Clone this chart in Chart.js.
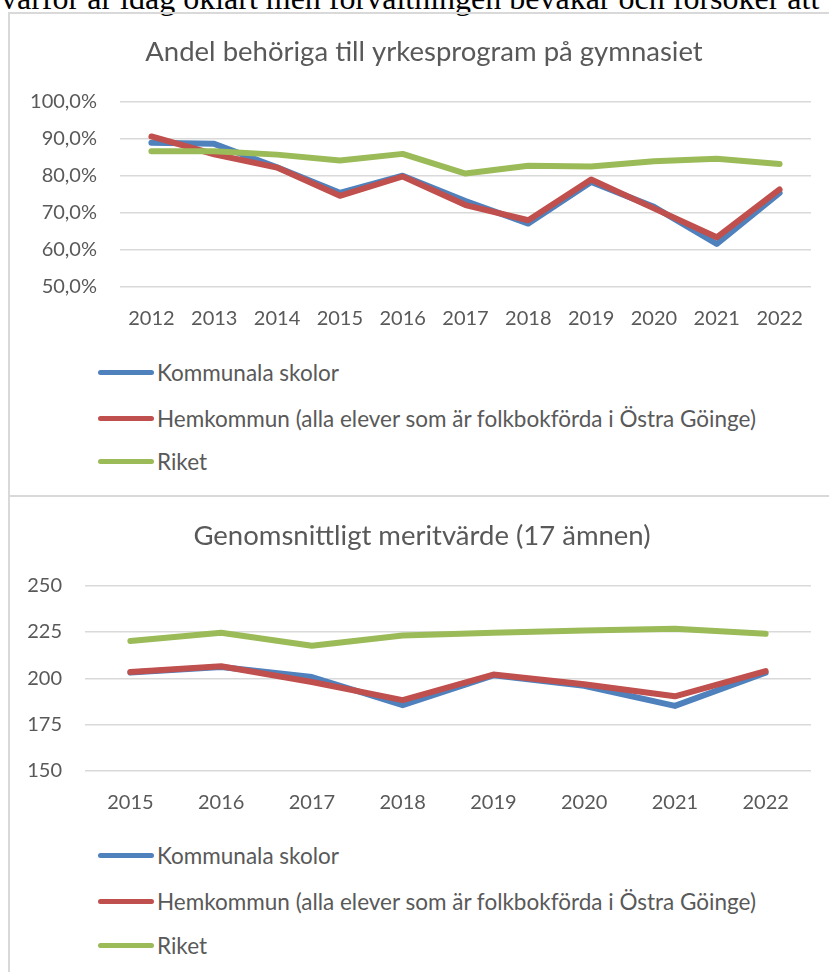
<!DOCTYPE html>
<html>
<head>
<meta charset="utf-8">
<script src="https://cdn.jsdelivr.net/npm/chart.js@4.4.1/dist/chart.umd.min.js"></script>
<style>
  html, body { margin: 0; padding: 0; background: #fff; }
  #page { position: relative; width: 829px; height: 972px; overflow: hidden; background: #fff; }
  #lead { position: absolute; left: 1px; top: -18px; font-family: "Liberation Serif", "Times New Roman", serif;
          font-size: 32px; line-height: 32px; color: #000; white-space: nowrap; }
  .frame { position: absolute; background: #d9d9d9; }
  canvas { position: absolute; left: 0; }
  .legend { position: absolute; left: 0; width: 829px; font-family: Lato, sans-serif; font-size: 22.5px; color: #595959; }
  .legend .item { position: absolute; left: 98px; height: 28px; white-space: nowrap; display: flex; align-items: center; }
  .legend .swatch { width: 56px; height: 5px; border-radius: 3px; margin-right: 3px; }
</style>
</head>
<body>
<div id="page">
  <div id="lead">varför är idag oklart men förvaltningen bevakar och försöker att</div>
  <div class="frame" style="left:8px;top:12px;width:2px;height:960px"></div>
  <div class="frame" style="left:8px;top:12px;width:821px;height:2px"></div>
  <div class="frame" style="left:8px;top:495px;width:821px;height:2px"></div>
  <canvas id="c1" width="829" height="345" style="top:0"></canvas>
  <div class="legend" id="leg1" style="top:0"></div>
  <canvas id="c2" width="829" height="345" style="top:484px"></canvas>
  <div class="legend" id="leg2" style="top:484px"></div>
</div>
<script>
// chart 1: Andel behöriga till yrkesprogram (procent)
const years1 = ['2012', '2013', '2014', '2015', '2016', '2017', '2018', '2019', '2020', '2021', '2022'];
const kommunala1 = [88.9, 88.6, 82.3, 75.4, 80.0, 73.2, 67.1, 78.3, 71.6, 61.6, 75.4];
const hemkommun1 = [90.6, 85.8, 82.2, 74.6, 79.8, 72.1, 68.0, 79.0, 71.2, 63.4, 76.3];
const riket1 = [86.6, 86.6, 85.7, 84.1, 85.9, 80.6, 82.7, 82.5, 83.9, 84.6, 83.2];
const yTicks1 = [50, 60, 70, 80, 90, 100];

// chart 2: Genomsnittligt meritvärde
const years2 = ['2015', '2016', '2017', '2018', '2019', '2020', '2021', '2022'];
const kommunala2 = [203.1, 206.1, 200.7, 185.5, 201.6, 196.0, 185.1, 203.0];
const hemkommun2 = [203.4, 206.5, 198.0, 188.2, 202.0, 196.8, 190.3, 203.9];
const riket2 = [220.1, 224.6, 217.6, 223.1, 224.6, 225.8, 226.7, 224.0];
const yTicks2 = [150, 175, 200, 225, 250];

const seriesNames = ['Kommunala skolor', 'Hemkommun (alla elever som är folkbokförda i Östra Göinge)', 'Riket'];
const seriesColors = ['#4f81bd', '#c0504d', '#9bbb59'];

const textColor = '#595959';
const fontFamily = 'Lato, sans-serif';

function makeDatasets(values) {
  // Riket on top, then Hemkommun, Kommunala at the bottom
  return values.map((v, i) => ({
    label: seriesNames[i],
    data: v,
    borderColor: seriesColors[i],
    backgroundColor: seriesColors[i],
    borderWidth: 6,
    borderCapStyle: 'round',
    borderJoinStyle: 'round',
    pointRadius: 0,
    tension: 0,
    order: 3 - i
  }));
}

// g: left pad, y axis width, empty right axis width, right pad (plot right ends at 811)
function makeChart(id, title, labels, values, ticks, fmt, g) {
  return new Chart(document.getElementById(id), {
    type: 'line',
    data: { labels: labels, datasets: makeDatasets(values) },
    options: {
      responsive: false,
      animation: false,
      devicePixelRatio: 1,
      layout: { padding: { left: g.left, right: g.right, top: 0, bottom: 0 } },
      plugins: {
        legend: { display: false },
        tooltip: { enabled: false },
        title: {
          display: true,
          text: title,
          color: textColor,
          font: { family: fontFamily, size: 27.5, weight: 'normal' },
          padding: { top: 36, bottom: 32.6 }
        }
      },
      scales: {
        x: {
          offset: true,
          grid: { display: false },
          border: { display: false },
          ticks: { color: textColor, font: { family: fontFamily, size: 20 }, padding: 12, maxRotation: 0 },
          afterFit: s => { s.height = 58; }
        },
        y: {
          min: ticks[0],
          max: ticks[ticks.length - 1],
          grid: { color: '#d9d9d9', lineWidth: 1.5, drawTicks: false },
          border: { display: false },
          ticks: {
            stepSize: ticks[1] - ticks[0],
            color: textColor,
            font: { family: fontFamily, size: 20 },
            padding: 23,
            callback: fmt
          },
          afterFit: s => { s.width = g.axis; }
        },
        // empty spacer on the right, keeps the title centred like the original
        yr: {
          position: 'right',
          grid: { display: false },
          border: { display: false },
          ticks: { display: false },
          afterFit: s => { s.width = g.spacer; }
        }
      }
    }
  });
}

function buildLegend(id, centers) {
  const el = document.getElementById(id);
  seriesNames.forEach((name, i) => {
    const item = document.createElement('div');
    item.className = 'item';
    item.style.top = (centers[i] - 14) + 'px';
    const sw = document.createElement('span');
    sw.className = 'swatch';
    sw.style.background = seriesColors[i];
    const tx = document.createElement('span');
    tx.textContent = name;
    item.appendChild(sw);
    item.appendChild(tx);
    el.appendChild(item);
  });
}

makeChart('c1', 'Andel behöriga till yrkesprogram på gymnasiet', years1,
  [kommunala1, hemkommun1, riket1], yTicks1,
  v => v.toFixed(1).replace('.', ',') + '%',
  { left: 20, axis: 100, spacer: 17, right: 1 });

makeChart('c2', 'Genomsnittligt meritvärde (17 ämnen)', years2,
  [kommunala2, hemkommun2, riket2], yTicks2,
  v => String(v),
  { left: 20, axis: 65, spacer: 13, right: 5 });

buildLegend('leg1', [372, 418, 461]);
buildLegend('leg2', [371, 417, 461]);
</script>
</body>
</html>
